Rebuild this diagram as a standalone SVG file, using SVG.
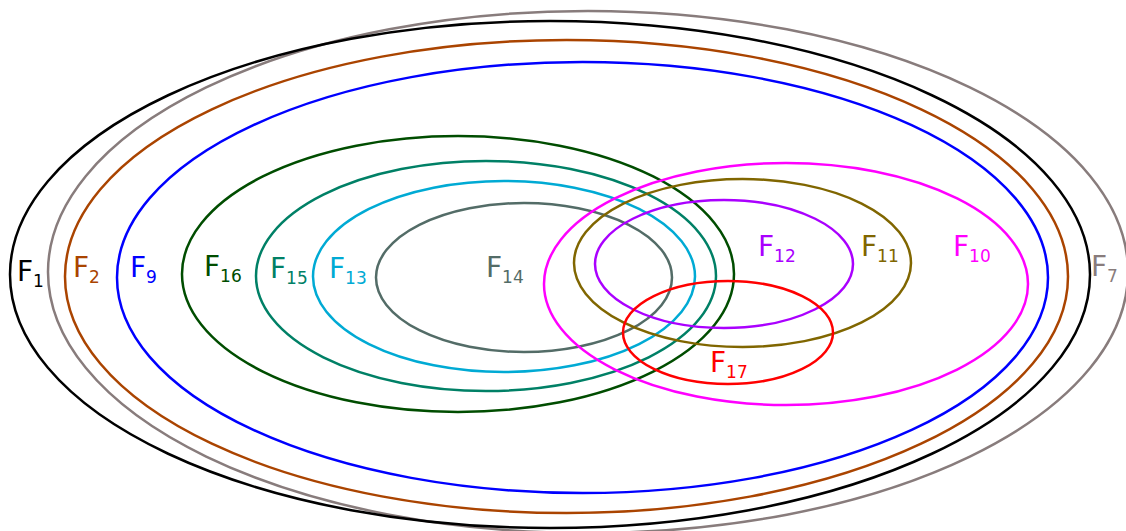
<svg xmlns="http://www.w3.org/2000/svg" width="1126" height="531" viewBox="0 0 1126 531">
<style>
ellipse{fill:none;stroke-width:2.5}
text{font-family:"DejaVu Sans","Liberation Sans",sans-serif;font-size:28px}
.s{font-size:17px}
</style>
<rect width="1126" height="531" fill="#fff"/>
<g id="F7"><ellipse cx="588" cy="272" rx="540" ry="261" stroke="#887c7c"/><text x="1091" y="276" fill="#887c7c">F<tspan class="s" dy="6">7</tspan></text></g>
<g id="F1"><ellipse cx="550" cy="274.5" rx="540" ry="253.5" stroke="#000"/><text x="17" y="281" fill="#000">F<tspan class="s" dy="6">1</tspan></text></g>
<g id="F2"><ellipse cx="566.5" cy="276.5" rx="501.5" ry="236.5" stroke="#aa4400"/><text x="73" y="277" fill="#aa4400">F<tspan class="s" dy="6">2</tspan></text></g>
<g id="F9"><ellipse cx="582.5" cy="277.5" rx="465.5" ry="215.5" stroke="#0000ff"/><text x="130" y="277" fill="#0000ff">F<tspan class="s" dy="6">9</tspan></text></g>
<g id="F16"><ellipse cx="458" cy="274" rx="276" ry="138" stroke="#004d00"/><text x="204" y="276" fill="#004d00">F<tspan class="s" dy="6">16</tspan></text></g>
<g id="F15"><ellipse cx="486" cy="276" rx="230" ry="115" stroke="#008066"/><text x="270" y="278" fill="#008066">F<tspan class="s" dy="6">15</tspan></text></g>
<g id="F13"><ellipse cx="504" cy="276.5" rx="191" ry="95.5" stroke="#00aad4"/><text x="329" y="278" fill="#00aad4">F<tspan class="s" dy="6">13</tspan></text></g>
<g id="F14"><ellipse cx="524" cy="277.5" rx="148" ry="74.5" stroke="#536c67"/><text x="486" y="277" fill="#536c67">F<tspan class="s" dy="6">14</tspan></text></g>
<g id="F10"><ellipse cx="786" cy="284" rx="242" ry="121" stroke="#ff00ff"/><text x="953" y="256" fill="#ff00ff">F<tspan class="s" dy="6">10</tspan></text></g>
<g id="F11"><ellipse cx="742.5" cy="263" rx="168.5" ry="84" stroke="#806600"/><text x="861" y="256" fill="#806600">F<tspan class="s" dy="6">11</tspan></text></g>
<g id="F12"><ellipse cx="724" cy="264" rx="129" ry="64" stroke="#aa00ff"/><text x="758" y="256" fill="#aa00ff">F<tspan class="s" dy="6">12</tspan></text></g>
<g id="F17"><ellipse cx="728" cy="332.5" rx="105" ry="51.5" stroke="#ff0000"/><text x="710" y="372" fill="#ff0000">F<tspan class="s" dy="6">17</tspan></text></g>
<g id="connectors"/>
</svg>
